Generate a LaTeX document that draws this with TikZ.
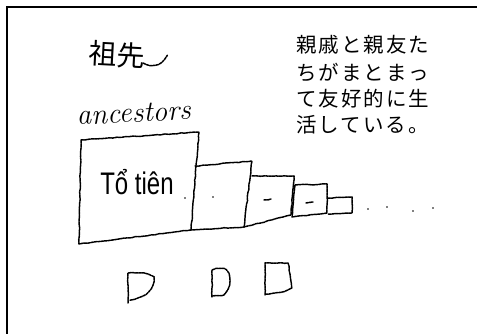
\documentclass[tikz,border=0pt]{standalone}
\usepackage{fontspec}
\usetikzlibrary{decorations.pathmorphing}
\newfontfamily\jpfont[LetterSpace=10]{Noto Sans CJK JP}
\newfontfamily\handjp{Noto Sans CJK JP}
\newfontfamily\vietfont{Liberation Sans}
\begin{document}
\begin{tikzpicture}[x=1pt,y=-1pt,
  pencil/.style={line width=1.5pt, dash pattern=on 2.6pt off 0.8pt, line join=round, line cap=round,
    decorate, decoration={random steps, segment length=4pt, amplitude=0.4pt}},
  speck/.style={fill=black, inner sep=0pt, minimum size=1.8pt, circle},
  jpline/.style={anchor=west, inner sep=0pt, font=\jpfont\fontsize{20.5}{20.5}\selectfont},
  scrawl/.style={inner sep=0pt}]
\useasboundingbox (0,0) rectangle (477,334);

% frame (top and left edges only)
\draw[line width=1.2pt] (7,334) -- (7,7) -- (477,7);

% printed caption
\node[jpline] (l1) at (296,45) {親戚と親友た};
\node[jpline] (l2) at (296,72) {ちがまとまっ};
\node[jpline] (l3) at (296,99) {て友好的に生};
\node[jpline] (l4) at (296,125) {活している。};

% handwritten labels
\node[scrawl, font=\handjp\fontsize{28}{28}\selectfont, rotate=-3, anchor=west] (sosen) at (89,53) {祖先};
\draw[pencil] (143,63) .. controls (153,68) and (162,65) .. (167,55);
\node[scrawl, font=\itshape\fontsize{29}{29}\selectfont, anchor=base west, rotate=3] (anc) at (77,125) {ancestors};

% shared corners of the shrinking boxes
\coordinate (a1) at (81,140);  \coordinate (a2) at (199,132);
\coordinate (a3) at (191,230); \coordinate (a4) at (79,244);
\coordinate (b1) at (195,166); \coordinate (b2) at (252,161);
\coordinate (b3) at (244,227);
\coordinate (c1) at (252,176); \coordinate (c2) at (294,176);
\coordinate (c3) at (291,215);
\coordinate (d1) at (295,185); \coordinate (d2) at (327,184);
\coordinate (d3) at (327,213); \coordinate (d4) at (292,217);
\coordinate (e1) at (328,198); \coordinate (e2) at (352,197);
\coordinate (e3) at (352,213); \coordinate (e4) at (328,214);

% boxes
\draw[pencil] (a1) -- (a2) -- (a3) -- (a4) -- cycle;
\draw[pencil] (b1) -- (b2) -- (b3) .. controls (225,228) and (205,229) .. (a3);
\draw[pencil] (c1) -- (c2) -- (c3) -- (b3);
\draw[pencil] (d1) -- (d2) -- (d3) -- (d4) -- cycle;
\draw[pencil] (e1) -- (e2) -- (e3) -- (e4);

% writing in the largest box
\node[scrawl, font=\vietfont\fontsize{24}{24}\selectfont, yscale=1.3] (totien) at (137,182) {Tổ tiên};

% small marks inside the boxes
\node[speck] (m1) at (185,198) {};
\node[speck] (m2) at (213,197) {};
\draw[pencil] (264,200) -- (271,199);
\draw[pencil] (306,203) -- (313,202);

% trailing dots
\node[speck] (p1) at (368,209) {};
\node[speck] (p2) at (387,207) {};
\node[speck] (p3) at (413,211) {};
\node[speck] (p4) at (433,208) {};

% small shapes below
\draw[pencil] (128,303) -- (128,273) .. controls (140,272) and (150,274) .. (154,277)
  .. controls (154,287) and (150,296) .. (130,300);
\draw[pencil] (212,297) -- (212,270) .. controls (218,268) and (224,268) .. (226,270)
  .. controls (231,275) and (231,290) .. (223,295) -- (212,296);
\draw[pencil] (265,295) -- (265,263) -- (288,263) .. controls (290,270) and (290,280) .. (292,288)
  .. controls (285,292) and (275,293) .. (266,294);
\end{tikzpicture}
\end{document}
